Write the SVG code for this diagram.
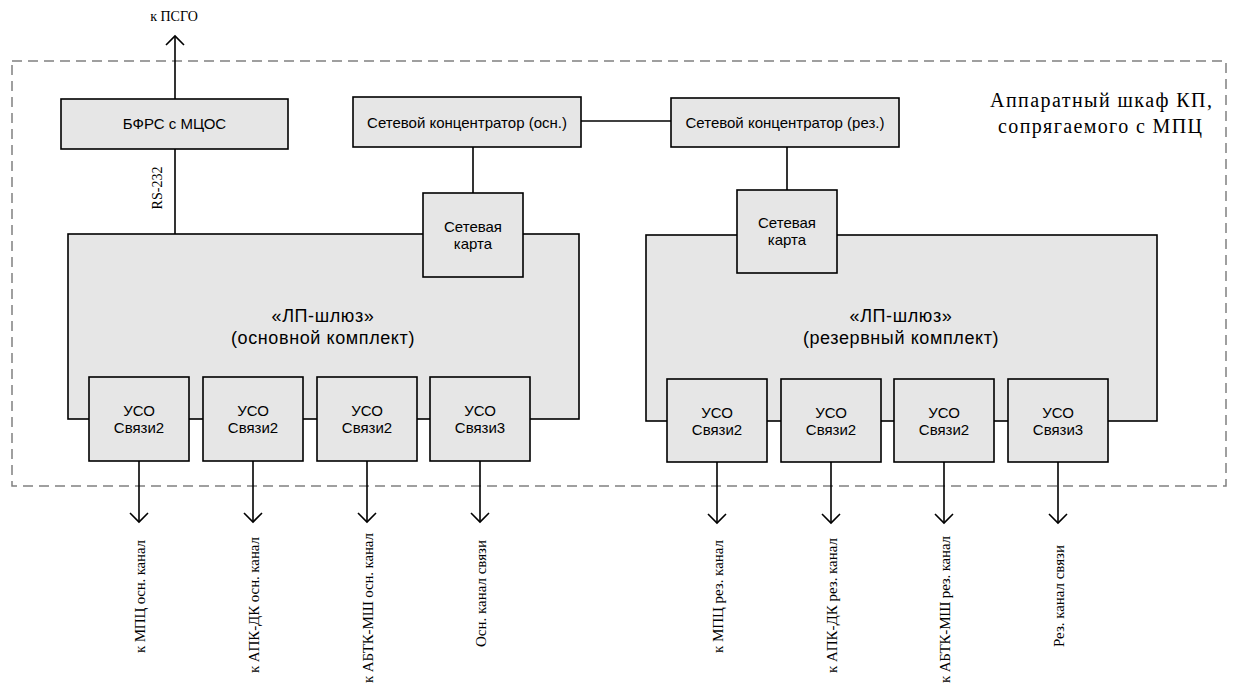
<svg xmlns="http://www.w3.org/2000/svg" width="1234" height="685" viewBox="0 0 1234 685">
<defs>
<style>
.box{fill:#e6e6e6;stroke:#000;stroke-width:1.6}
.ln{fill:none;stroke:#000;stroke-width:1.6}
.sans{font-family:"Liberation Sans",Arial,sans-serif;fill:#000}
.serif{font-family:"Liberation Serif","Times New Roman",serif;fill:#000}
.s15{font-size:15px}
.big{font-size:18px;letter-spacing:0.6px}
.lbl{font-size:15px}
</style>
<marker id="arr" markerUnits="userSpaceOnUse" markerWidth="24" markerHeight="24" viewBox="-12 -12 24 24" refX="0" refY="0" orient="auto">
<path d="M-9,-9 L0,0 L-9,9" fill="none" stroke="#000" stroke-width="1.6"/>
</marker>
</defs>
<rect width="1234" height="685" fill="#fff"/>

<g id="cabinet">
<rect x="12" y="61" width="1214" height="425" fill="none" stroke="#808080" stroke-width="1.5" stroke-dasharray="10,6"/>
<text class="serif" font-size="20" text-anchor="middle" x="1101" y="107" textLength="222" lengthAdjust="spacing">Аппаратный шкаф КП,</text>
<text class="serif" font-size="20" text-anchor="middle" x="1100" y="133" textLength="204" lengthAdjust="spacing">сопрягаемого с МПЦ</text>
</g>

<g id="connectors">
<line class="ln" x1="175" y1="99" x2="175" y2="36" marker-end="url(#arr)"/>
<line class="ln" x1="175" y1="149" x2="175" y2="234"/>
<line class="ln" x1="581" y1="121" x2="671" y2="121"/>
<line class="ln" x1="473" y1="147" x2="473" y2="193"/>
<line class="ln" x1="787" y1="147" x2="787" y2="190"/>
<line class="ln" x1="139" y1="461" x2="139" y2="522" marker-end="url(#arr)"/>
<line class="ln" x1="253" y1="461" x2="253" y2="522" marker-end="url(#arr)"/>
<line class="ln" x1="367" y1="461" x2="367" y2="522" marker-end="url(#arr)"/>
<line class="ln" x1="480" y1="461" x2="480" y2="522" marker-end="url(#arr)"/>
<line class="ln" x1="717" y1="462" x2="717" y2="523" marker-end="url(#arr)"/>
<line class="ln" x1="831" y1="462" x2="831" y2="523" marker-end="url(#arr)"/>
<line class="ln" x1="944" y1="462" x2="944" y2="523" marker-end="url(#arr)"/>
<line class="ln" x1="1058" y1="462" x2="1058" y2="523" marker-end="url(#arr)"/>
<text class="serif" font-size="14" text-anchor="middle" x="174" y="21">к ПСГО</text>
<text class="serif" font-size="14" text-anchor="middle" transform="translate(162,188) rotate(-90)">RS-232</text>
</g>

<g id="bfrs">
<rect class="box" x="61" y="99" width="227" height="50"/>
<text class="sans s15" text-anchor="middle" x="174.5" y="129">БФРС с МЦОС</text>
</g>

<g id="hub-main">
<rect class="box" x="353" y="97" width="228" height="50"/>
<text class="sans s15" text-anchor="middle" x="467" y="128">Сетевой концентратор (осн.)</text>
</g>

<g id="hub-reserve">
<rect class="box" x="671" y="98" width="228" height="49"/>
<text class="sans s15" text-anchor="middle" x="785" y="128">Сетевой концентратор (рез.)</text>
</g>

<g id="gateway-main">
<rect class="box" x="68" y="234" width="511" height="185"/>
<text class="sans big" text-anchor="middle" x="323" y="322">«ЛП-шлюз»</text>
<text class="sans big" text-anchor="middle" x="323" y="344">(основной комплект)</text>
</g>

<g id="netcard-main">
<rect class="box" x="423" y="193" width="100" height="84"/>
<text class="sans s15" text-anchor="middle" x="473" y="232">Сетевая</text>
<text class="sans s15" text-anchor="middle" x="473" y="249">карта</text>
</g>

<g id="gateway-reserve">
<rect class="box" x="646" y="235" width="511" height="186"/>
<text class="sans big" text-anchor="middle" x="901" y="322">«ЛП-шлюз»</text>
<text class="sans big" text-anchor="middle" x="901" y="344">(резервный комплект)</text>
</g>

<g id="netcard-reserve">
<rect class="box" x="737" y="190" width="100" height="83"/>
<text class="sans s15" text-anchor="middle" x="787" y="228">Сетевая</text>
<text class="sans s15" text-anchor="middle" x="787" y="245">карта</text>
</g>

<g id="uso-m1">
<rect class="box" x="89" y="377" width="100" height="84"/>
<text class="sans s15" text-anchor="middle" x="139" y="416">УСО</text>
<text class="sans s15" text-anchor="middle" x="139" y="433">Связи2</text>
</g>
<g id="uso-m2">
<rect class="box" x="203" y="377" width="100" height="84"/>
<text class="sans s15" text-anchor="middle" x="253" y="416">УСО</text>
<text class="sans s15" text-anchor="middle" x="253" y="433">Связи2</text>
</g>
<g id="uso-m3">
<rect class="box" x="317" y="377" width="100" height="84"/>
<text class="sans s15" text-anchor="middle" x="367" y="416">УСО</text>
<text class="sans s15" text-anchor="middle" x="367" y="433">Связи2</text>
</g>
<g id="uso-m4">
<rect class="box" x="430" y="377" width="100" height="84"/>
<text class="sans s15" text-anchor="middle" x="480" y="416">УСО</text>
<text class="sans s15" text-anchor="middle" x="480" y="433">Связи3</text>
</g>

<g id="uso-r1">
<rect class="box" x="667" y="379" width="100" height="83"/>
<text class="sans s15" text-anchor="middle" x="717" y="418">УСО</text>
<text class="sans s15" text-anchor="middle" x="717" y="435">Связи2</text>
</g>
<g id="uso-r2">
<rect class="box" x="781" y="379" width="100" height="83"/>
<text class="sans s15" text-anchor="middle" x="831" y="418">УСО</text>
<text class="sans s15" text-anchor="middle" x="831" y="435">Связи2</text>
</g>
<g id="uso-r3">
<rect class="box" x="894" y="379" width="100" height="83"/>
<text class="sans s15" text-anchor="middle" x="944" y="418">УСО</text>
<text class="sans s15" text-anchor="middle" x="944" y="435">Связи2</text>
</g>
<g id="uso-r4">
<rect class="box" x="1008" y="379" width="100" height="83"/>
<text class="sans s15" text-anchor="middle" x="1058" y="418">УСО</text>
<text class="sans s15" text-anchor="middle" x="1058" y="435">Связи3</text>
</g>

<g id="labels">
<text class="serif lbl" text-anchor="end" transform="translate(145,540) rotate(-90)" textLength="113" lengthAdjust="spacing">к МПЦ осн. канал</text>
<text class="serif lbl" text-anchor="end" transform="translate(259,537) rotate(-90)" textLength="136" lengthAdjust="spacing">к АПК-ДК осн. канал</text>
<text class="serif lbl" text-anchor="end" transform="translate(373,533) rotate(-90)" textLength="150" lengthAdjust="spacing">к АБТК-МШ осн. канал</text>
<text class="serif lbl" text-anchor="end" transform="translate(486,540) rotate(-90)" textLength="107" lengthAdjust="spacing">Осн. канал связи</text>
<text class="serif lbl" text-anchor="end" transform="translate(723,540) rotate(-90)" textLength="113" lengthAdjust="spacing">к МПЦ рез. канал</text>
<text class="serif lbl" text-anchor="end" transform="translate(837,538) rotate(-90)" textLength="135" lengthAdjust="spacing">к АПК-ДК рез. канал</text>
<text class="serif lbl" text-anchor="end" transform="translate(950,536) rotate(-90)" textLength="147" lengthAdjust="spacing">к АБТК-МШ рез. канал</text>
<text class="serif lbl" text-anchor="end" transform="translate(1064,545) rotate(-90)" textLength="102" lengthAdjust="spacing">Рез. канал связи</text>
</g>
</svg>
